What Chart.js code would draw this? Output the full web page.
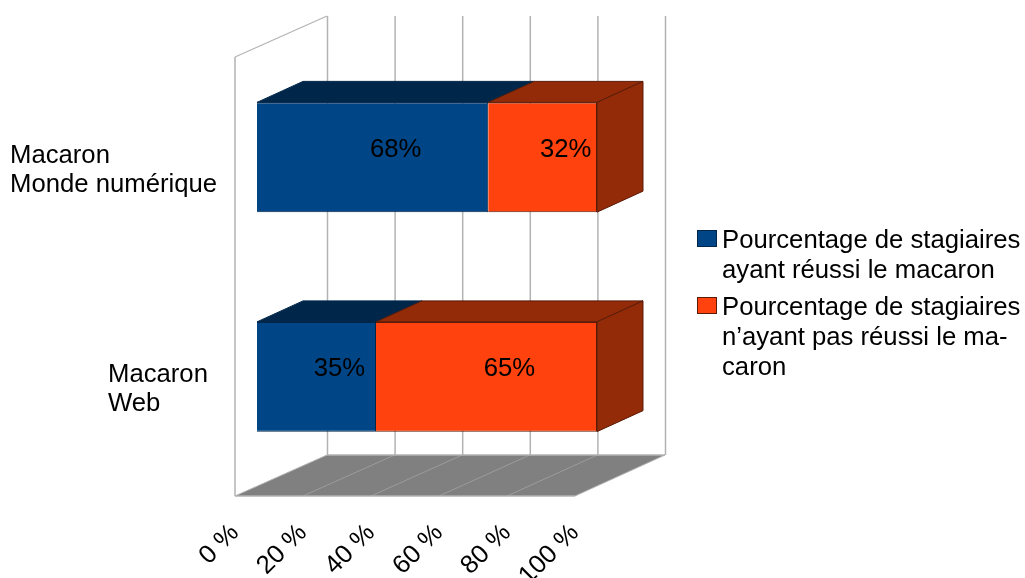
<!DOCTYPE html>
<html><head><meta charset="utf-8">
<style>html,body{margin:0;padding:0;background:#fff;overflow:hidden}canvas{display:block}</style>
<script src="https://cdn.jsdelivr.net/npm/chart.js@4"></script>
</head><body><canvas id="c" width="1025" height="578"></canvas>
<script>
const categories = [["Macaron","Monde numérique"],["Macaron","Web"]];
const categoryLeft = [10,108];
const reussi = [68,35];
const nonReussi = [32,65];
const labelsReussi = ["68%","35%"];
const labelsNonReussi = ["32%","65%"];
const legendReussi = ["Pourcentage de stagiaires","ayant réussi le macaron"];
const legendNonReussi = ["Pourcentage de stagiaires","n’ayant pas réussi le ma-","caron"];
const xTicks = [0,20,40,60,80,100];
const BLUE="#004586",ORANGE="#ff420e",BLUE_DK="#00264a",ORANGE_DK="#932a08";
const FONT='"Liberation Sans"';
const FS=25.7;
const OFF={x:22,y:9.5}, BAR={x:46,y:21}, BOX={x:92,y:41}, BACK_SCALE=338/340;

function poly(ctx,pts,fill,stroke,w){
  ctx.beginPath();pts.forEach((p,i)=>i?ctx.lineTo(p[0],p[1]):ctx.moveTo(p[0],p[1]));ctx.closePath();
  if(fill){ctx.fillStyle=fill;ctx.fill();}
  if(stroke){ctx.strokeStyle=stroke;ctx.lineWidth=w||1;ctx.stroke();}
}
function line(ctx,a,b,c,d,col,w){ctx.beginPath();ctx.moveTo(a,b);ctx.lineTo(c,d);ctx.strokeStyle=col;ctx.lineWidth=w||1;ctx.stroke();}

const scene={id:'scene',
  beforeDatasetsDraw(ch){
    const {ctx,scales:{x,y}}=ch, ca=ch.chartArea;
    const t=ca.top,b=ca.bottom,l=ca.left,r=ca.right;
    const back=px=>l+BOX.x+(px-l)*BACK_SCALE;
    ctx.save();
    // floor
    poly(ctx,[[l,b],[r,b],[back(r),b-BOX.y],[back(l),b-BOX.y]],"#808080");
    xTicks.forEach(v=>{
      const px=x.getPixelForValue(v);
      line(ctx,back(px)+.5,t-BOX.y,back(px)+.5,b-BOX.y,"#b3b3b3",1.5);
      if(v>0&&v<100) line(ctx,px,b,back(px),b-BOX.y,"#9c9c9c",1);
    });
    // walls
    line(ctx,l,t,l,b,"#b3b3b3",1.5);
    line(ctx,l,t,back(l),t-BOX.y,"#b3b3b3",1.2);
    line(ctx,l,b,r,b,"#b3b3b3",1.5);
    line(ctx,back(l),b-BOX.y,back(r),b-BOX.y,"#b3b3b3",1.5);
    line(ctx,l,b,back(l),b-BOX.y,"#b3b3b3",1);
    line(ctx,r,b,back(r),b-BOX.y,"#b3b3b3",1);
    ctx.restore();
    // 3D bar faces, then bars shifted into the middle of the depth
    ctx.save();
    ctx.translate(OFF.x,-OFF.y);
    ch.data.datasets.forEach((ds,di)=>{
      const dark=di===0?BLUE_DK:ORANGE_DK;
      ch.getDatasetMeta(di).data.forEach(el=>{
        const top=el.y-el.height/2,bot=el.y+el.height/2;
        poly(ctx,[[el.base,top],[el.x,top],[el.x+BAR.x,top-BAR.y],[el.base+BAR.x,top-BAR.y]],dark,di===0?"#00264a":"#5a1c08",1);
        if(di===ch.data.datasets.length-1)
          poly(ctx,[[el.x,top],[el.x+BAR.x,top-BAR.y],[el.x+BAR.x,bot-BAR.y],[el.x,bot]],dark,"#5a1c08",1);
      });
    });
  },
  afterDatasetsDraw(ch){
    const ctx=ch.ctx;
    ctx.restore();
    ctx.save();
    // value labels
    ctx.font=FS+'px '+FONT;ctx.fillStyle="#000";ctx.textAlign="center";ctx.textBaseline="middle";
    [labelsReussi,labelsNonReussi].forEach((arr,di)=>{
      ch.getDatasetMeta(di).data.forEach((el,i)=>{
        ctx.fillText(arr[i],(el.x+el.base)/2+OFF.x+BAR.x/2,el.y-OFF.y-BAR.y/2+3);
      });
    });
    // category labels
    ctx.textAlign="left";
    categories.forEach((lines,i)=>{
      const cy=ch.scales.y.getPixelForValue(i)-OFF.y;
      lines.forEach((s,j)=>ctx.fillText(s,categoryLeft[i],cy+13+(j-.5)*29));
    });
    // legend
    const items=[[legendReussi,BLUE,"#00264a",240],[legendNonReussi,ORANGE,"#5a1c08",307]];
    items.forEach(([lines,col,edge,y0])=>{
      ctx.fillStyle=col;ctx.fillRect(697.5,y0-9.5,19,16);
      ctx.strokeStyle=edge;ctx.lineWidth=1;ctx.strokeRect(697.5,y0-9.5,19,16);
      ctx.fillStyle="#000";
      lines.forEach((s,j)=>ctx.fillText(s,722,y0+1+j*30));
    });
    ctx.restore();
  }
};

new Chart(document.getElementById('c'),{
  type:'bar',
  data:{labels:categories.map(c=>c.join(' ')),datasets:[
    {label:legendReussi.join(' '),data:reussi,backgroundColor:BLUE,borderColor:"#00264a",borderWidth:1,clip:false},
    {label:legendNonReussi.join(' '),data:nonReussi,backgroundColor:ORANGE,borderColor:"#5a1c08",borderWidth:1,clip:false}
  ]},
  options:{
    indexAxis:'y',responsive:false,animation:false,devicePixelRatio:1,
    layout:{padding:{left:0,top:57,right:450,bottom:0}},
    barPercentage:.5,categoryPercentage:1,
    plugins:{legend:{display:false},tooltip:{enabled:false}},
    scales:{
      x:{stacked:true,min:0,max:100,
        afterFit(s){s.height=82;},
        afterBuildTicks(s){s.ticks=xTicks.map(v=>({value:v}));},
        grid:{display:false},border:{display:false},
        ticks:{minRotation:45,maxRotation:45,padding:14,autoSkip:false,color:"#000",
          font:{family:FONT,size:FS},callback:v=>v+" %"}},
      y:{stacked:true,
        afterFit(s){s.width=235;},
        grid:{display:false},border:{display:false},ticks:{display:false}}
    }
  },
  plugins:[scene]
});
</script></body></html>
